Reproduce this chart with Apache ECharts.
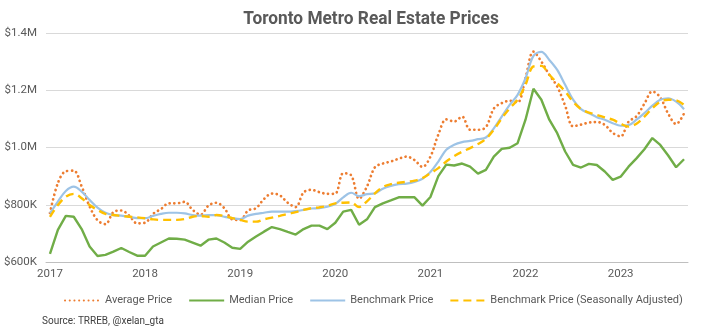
<!DOCTYPE html>
<html>
<head>
<meta charset="utf-8">
<script src="https://cdn.jsdelivr.net/npm/echarts@6/dist/echarts.min.js"></script>
<style>
html,body{margin:0;padding:0;background:#fff;}
#chart{width:707px;height:333px;}
</style>
</head>
<body>
<div id="chart"></div>
<script>
// Monthly, Jan 2017 - Sep 2023 (values in $K)
const years = [2017, 2018, 2019, 2020, 2021, 2022, 2023];
const months = [];
years.forEach(y => { for (let m = 1; m <= 12; m++) { if (y === 2023 && m > 9) break; months.push(y + '-' + (m < 10 ? '0' + m : m)); } });

const averagePrice = [
  771, 876, 917, 919, 864, 794, 746, 732, 774, 780, 762, 735,
  737, 768, 785, 805, 805, 810, 782, 765, 797, 807, 788, 749,
  747, 780, 788, 820, 839, 833, 807, 792, 843, 852, 844, 838,
  839, 910, 903, 821, 864, 931, 944, 951, 961, 968, 956, 932,
  968, 1045, 1098, 1091, 1108, 1062, 1062, 1071, 1136, 1155, 1163, 1158,
  1243, 1335, 1300, 1254, 1213, 1146, 1074, 1080, 1087, 1089, 1079, 1051,
  1039, 1090, 1109, 1153, 1196, 1175, 1118, 1082, 1119
];
const medianPrice = [
  628, 712, 761, 758, 715, 654, 621, 625, 636, 649, 635, 622,
  622, 654, 668, 682, 681, 678, 668, 657, 678, 682, 668, 650,
  646, 671, 689, 706, 722, 715, 705, 696, 715, 727, 727, 715,
  737, 776, 782, 730, 749, 792, 805, 815, 826, 826, 826, 797,
  827, 900, 940, 937, 944, 933, 909, 922, 968, 995, 999, 1015,
  1097, 1205, 1167, 1097, 1050, 986, 939, 930, 943, 939, 916, 887,
  898, 933, 962, 994, 1033, 1009, 972, 931, 959
];
const benchmarkPrice = [
  770, 811, 848, 863, 846, 817, 790, 772, 764, 762, 758, 753,
  753, 761, 768, 772, 772, 770, 764, 762, 764, 764, 758, 753,
  750, 762, 768, 772, 776, 776, 776, 778, 782, 787, 788, 793,
  803, 826, 842, 830, 837, 840, 856, 866, 872, 874, 880, 891,
  914, 951, 992, 1010, 1019, 1023, 1029, 1035, 1067, 1108, 1149, 1184,
  1242, 1320, 1334, 1306, 1271, 1219, 1167, 1134, 1120, 1106, 1097, 1085,
  1076, 1078, 1097, 1120, 1146, 1167, 1172, 1160, 1134
];
const benchmarkSA = [
  758, 799, 828, 838, 823, 799, 782, 768, 764, 761, 758, 756,
  753, 749, 747, 747, 747, 750, 758, 761, 758, 764, 761, 753,
  747, 741, 741, 749, 755, 761, 768, 774, 782, 788, 791, 796,
  805, 807, 808, 792, 812, 840, 862, 872, 877, 880, 884, 893,
  910, 928, 951, 970, 985, 998, 1012, 1030, 1062, 1102, 1137, 1167,
  1219, 1283, 1285, 1254, 1225, 1196, 1160, 1134, 1122, 1114, 1105, 1097,
  1083, 1073, 1083, 1108, 1137, 1160, 1167, 1165, 1149
];
const seriesNames = ['Average Price', 'Median Price', 'Benchmark Price', 'Benchmark Price (Seasonally Adjusted)'];
const yTicks = { min: 600, max: 1400, step: 200 };

const FONT = "Roboto, 'Noto Sans', sans-serif";
const chart = echarts.init(document.getElementById('chart'), null, { renderer: 'canvas' });
chart.setOption({
  animation: false,
  backgroundColor: '#fff',
  textStyle: { fontFamily: FONT },
  grid: { left: 46, right: 19, top: 33, bottom: 71, containLabel: false },
  legend: {
    data: seriesNames,
    top: 290, left: 59,
    itemWidth: 35, itemHeight: 10, itemGap: 16,
    itemStyle: { opacity: 0, borderWidth: 0 },
    textStyle: { fontFamily: FONT, fontSize: 11, color: '#595959' }
  },
  graphic: [{
    type: 'text', x: 371, y: 19, scaleX: 0.96, originX: 0,
    style: { text: 'Toronto Metro Real Estate Prices', fontFamily: FONT, fontSize: 18, fontWeight: 'bold',
      fill: '#595959', align: 'center', verticalAlign: 'middle' }
  }, {
    type: 'text', left: 42, top: 316,
    style: { text: 'Source: TRREB, @xelan_gta', fontFamily: FONT, fontSize: 10, fill: '#404040' }
  }],
  xAxis: {
    type: 'category', data: months, boundaryGap: true,
    axisLine: { lineStyle: { color: '#BFBFBF', width: 1 } },
    axisTick: { interval: 11, length: 5, lineStyle: { color: '#BFBFBF' } },
    axisLabel: { interval: 11, formatter: v => v.slice(0, 4), color: '#595959', fontSize: 11.5, margin: 6, fontFamily: FONT },
    splitLine: { show: false }
  },
  yAxis: {
    type: 'value', min: yTicks.min, max: yTicks.max, interval: yTicks.step,
    axisLine: { show: false }, axisTick: { show: false },
    axisLabel: {
      formatter: v => v >= 1000 ? '$' + (v / 1000).toFixed(1) + 'M' : '$' + v + 'K',
      color: '#595959', fontSize: 11.5, margin: 9, fontFamily: FONT
    },
    splitLine: { lineStyle: { color: '#D9D9D9', width: 1 } }
  },
  series: [
    { name: seriesNames[0], type: 'line', data: averagePrice, symbol: 'none', smooth: 0.35,
      lineStyle: { color: '#ED7D31', width: 2.7, type: [0.1, 4.6], cap: 'round' }, itemStyle: { color: '#ED7D31' } },
    { name: seriesNames[1], type: 'line', data: medianPrice, symbol: 'none', smooth: false,
      lineStyle: { color: '#70AD47', width: 2.4 }, itemStyle: { color: '#70AD47' } },
    { name: seriesNames[2], type: 'line', data: benchmarkPrice, symbol: 'none', smooth: 0.35,
      lineStyle: { color: '#9DC3E6', width: 2.2 }, itemStyle: { color: '#9DC3E6' } },
    { name: seriesNames[3], type: 'line', data: benchmarkSA, symbol: 'none', smooth: 0.35,
      lineStyle: { color: '#FFC000', width: 2.4, type: [8, 5] }, itemStyle: { color: '#FFC000' } }
  ]
});
</script>
</body>
</html>
